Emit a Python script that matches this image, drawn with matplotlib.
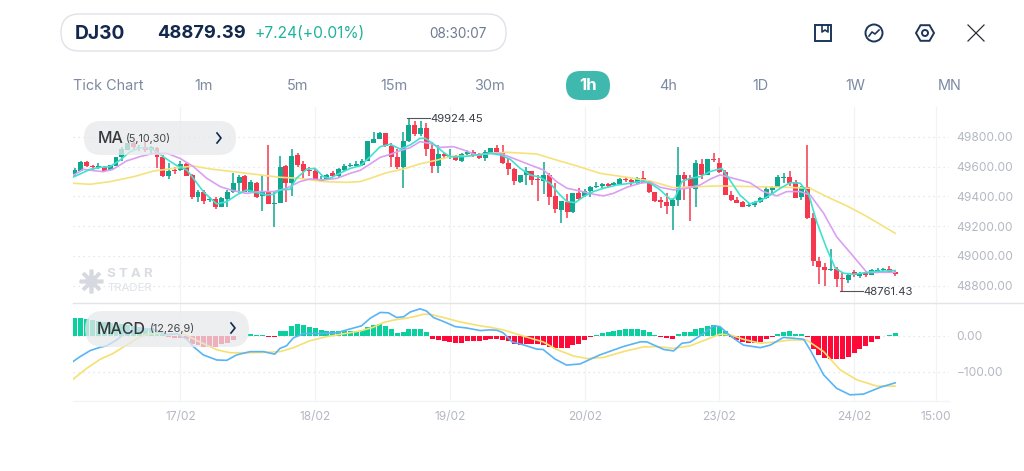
import numpy as np
import matplotlib
matplotlib.use("Agg")
import matplotlib.pyplot as plt
from matplotlib.patches import FancyBboxPatch, Circle, RegularPolygon, Rectangle

plt.rcParams['font.family'] = ['Inter', 'DejaVu Sans']

# hourly candles
opens = [49551, 49574, 49632, 49607, 49594, 49601, 49576, 49607, 49668, 49715,
         49757, 49726, 49733, 49713, 49728, 49668, 49538, 49580, 49580, 49619,
         49545, 49397, 49430, 49377, 49383, 49332, 49386, 49430, 49491, 49538,
         49430, 49489, 49404, 49435, 49352, 49359, 49605, 49493, 49677, 49619,
         49578, 49574, 49504, 49516, 49556, 49538, 49578, 49605, 49607, 49612,
         49639, 49760, 49789, 49825, 49742, 49668, 49601, 49773, 49878, 49818,
         49860, 49717, 49603, 49686, 49663, 49674, 49639, 49686, 49699, 49681,
         49657, 49690, 49724, 49701, 49627, 49587, 49500, 49542, 49569, 49516,
         49504, 49547, 49404, 49309, 49365, 49296, 49426, 49401, 49435, 49462,
         49468, 49482, 49475, 49484, 49516, 49513, 49493, 49527, 49489, 49430,
         49377, 49363, 49336, 49377, 49545, 49522, 49453, 49619, 49545, 49650,
         49623, 49567, 49412, 49377, 49363, 49338, 49341, 49361, 49390, 49444,
         49464, 49524, 49533, 49498, 49395, 49462, 49256, 48964, 48924, 48904,
         48913, 48852, 48839, 48890, 48868, 48886, 48873, 48899, 48906, 48915,
         48890]
highs = [49589, 49636, 49641, 49610, 49623, 49605, 49614, 49668, 49735, 49762,
         49769, 49746, 49764, 49739, 49735, 49679, 49623, 49601, 49641, 49627,
         49551, 49444, 49444, 49399, 49395, 49395, 49444, 49556, 49545, 49547,
         49511, 49500, 49545, 49746, 49433, 49672, 49612, 49717, 49690, 49641,
         49601, 49583, 49538, 49551, 49574, 49592, 49619, 49627, 49636, 49650,
         49775, 49831, 49836, 49829, 49762, 49717, 49831, 49924.45, 49910, 49910,
         49892, 49769, 49746, 49695, 49717, 49679, 49695, 49713, 49713, 49690,
         49713, 49728, 49746, 49744, 49657, 49594, 49547, 49601, 49574, 49545,
         49632, 49556, 49489, 49372, 49417, 49426, 49455, 49448, 49471, 49498,
         49493, 49493, 49498, 49522, 49533, 49518, 49533, 49574, 49511, 49433,
         49395, 49421, 49381, 49735, 49567, 49545, 49645, 49650, 49654, 49690,
         49657, 49578, 49439, 49399, 49370, 49354, 49372, 49399, 49462, 49471,
         49542, 49560, 49574, 49511, 49471, 49746, 49287, 48996, 48951, 49050,
         48929, 48888, 48879, 48906, 48893, 48897, 48915, 48917, 48922, 48935,
         48902]
lows = [49529, 49569, 49596, 49574, 49587, 49569, 49571, 49605, 49636, 49713,
        49717, 49708, 49701, 49686, 49589, 49533, 49520, 49551, 49574, 49538,
        49381, 49365, 49347, 49363, 49316, 49332, 49332, 49426, 49426, 49428,
        49421, 49388, 49305, 49350, 49197, 49354, 49365, 49404, 49601, 49516,
        49538, 49504, 49500, 49511, 49529, 49529, 49574, 49601, 49596, 49607,
        49636, 49757, 49784, 49735, 49601, 49587, 49455, 49769, 49807, 49807,
        49672, 49560, 49556, 49650, 49654, 49639, 49634, 49679, 49663, 49654,
        49641, 49686, 49695, 49619, 49547, 49480, 49489, 49480, 49477, 49368,
        49415, 49341, 49291, 49224, 49256, 49291, 49377, 49395, 49399, 49457,
        49457, 49462, 49471, 49480, 49500, 49471, 49477, 49489, 49426, 49363,
        49323, 49285, 49175, 49336, 49377, 49238, 49332, 49516, 49542, 49630,
        49560, 49408, 49372, 49354, 49327, 49332, 49332, 49359, 49386, 49410,
        49462, 49493, 49471, 49388, 49377, 49251, 48933, 48812, 48799, 48899,
        48790, 48761.43, 48821, 48861, 48852, 48861, 48870, 48893, 48897, 48884,
        48868]
closes = [49576, 49632, 49607, 49596, 49603, 49574, 49610, 49663, 49717, 49757,
          49730, 49735, 49713, 49733, 49668, 49538, 49574, 49574, 49619, 49540,
          49399, 49430, 49372, 49386, 49332, 49388, 49430, 49493, 49533, 49433,
          49498, 49399, 49435, 49350, 49356, 49601, 49493, 49672, 49614, 49574,
          49569, 49504, 49520, 49545, 49536, 49583, 49607, 49612, 49616, 49639,
          49771, 49789, 49825, 49742, 49668, 49598, 49773, 49878, 49818, 49860,
          49717, 49607, 49683, 49672, 49672, 49643, 49686, 49699, 49679, 49659,
          49697, 49724, 49699, 49627, 49587, 49502, 49542, 49571, 49509, 49509,
          49542, 49399, 49314, 49370, 49298, 49426, 49381, 49437, 49466, 49471,
          49482, 49471, 49489, 49518, 49509, 49495, 49527, 49493, 49428, 49370,
          49361, 49336, 49377, 49545, 49520, 49455, 49623, 49545, 49650, 49643,
          49567, 49412, 49377, 49359, 49332, 49345, 49363, 49392, 49451, 49466,
          49529, 49531, 49493, 49392, 49462, 49256, 48964, 48929, 48906, 48911,
          48848, 48843, 48870, 48870, 48884, 48873, 48908, 48906, 48915, 48886,
          48879.39]

# moving averages, sampled along the candle index
ma5_idx = [-0.4, 0.85, 2.6, 4.3, 6, 7.7, 9.4, 11.1, 12.8, 13.9, 15.7, 17.4, 19.1, 20.2, 21.9, 23.1, 24.2,
           25.9, 27.6, 29.3, 31, 32.7, 33.9, 35, 36.7, 37.8, 39.6, 41, 42.4, 43.5, 45.2, 47, 48.7, 50.4,
           52.1, 53.8, 55.5, 57.2, 58.9, 59.8, 61.2, 62.9, 64, 66.3, 68.6, 70.9, 72.6, 74.3, 76, 77.7,
           79.4, 81.1, 82.8, 84, 85.4, 86.8, 88.5, 90.2, 92.5, 94.8, 97, 98.2, 99.9, 101.6, 102.4, 103.6,
           105, 106.7, 108.4, 110.4, 111.8, 113.5, 115.2, 117, 118.7, 120.4, 122.1, 123.8, 125.2, 126.6,
           128.3, 129.8, 131.2, 132.9, 136.3, 140]
ma5 = [49529, 49551, 49583, 49596, 49601, 49645, 49701, 49728, 49724, 49701, 49650, 49607, 49578, 49522,
       49433, 49388, 49350, 49365, 49410, 49444, 49426, 49410, 49415, 49444, 49448, 49522, 49585, 49589,
       49533, 49522, 49556, 49589, 49607, 49668, 49735, 49751, 49719, 49746, 49791, 49791, 49753, 49697,
       49668, 49668, 49679, 49690, 49679, 49650, 49589, 49545, 49529, 49489, 49410, 49365, 49359, 49399,
       49433, 49455, 49477, 49489, 49505, 49489, 49444, 49381, 49388, 49500, 49522, 49533, 49567, 49589,
       49511, 49410, 49350, 49372, 49410, 49455, 49493, 49489, 49421, 49231, 49052, 48917, 48884, 48877,
       48895, 48902]
ma10_idx = [-0.4, 1.4, 3.1, 4.8, 6.5, 8.8, 11.1, 13.4, 15.7, 17.9, 20.2, 22.5, 24.8, 27, 29.3, 31.6, 33.9,
            36.1, 38.4, 40.1, 42.4, 44.7, 47, 48.7, 50.4, 52.1, 53.8, 55.5, 57.2, 58.9, 60.6, 62.3, 64.6,
            66.3, 68.6, 70.9, 72.6, 74.8, 77.7, 80, 82.2, 84, 86.2, 88.5, 90.2, 91.9, 94.2, 96.5, 98.2,
            99.9, 102.2, 104.4, 106.7, 108.4, 110.1, 112.4, 115.2, 117.5, 119.8, 121.5, 123.8, 125.5,
            127.8, 130, 132.9, 135.2, 137.5, 140]
ma10 = [49540, 49583, 49574, 49567, 49583, 49639, 49668, 49690, 49690, 49657, 49601, 49522, 49466, 49439,
        49421, 49433, 49433, 49455, 49500, 49518, 49511, 49522, 49556, 49576, 49619, 49663, 49683, 49708,
        49728, 49769, 49757, 49730, 49735, 49713, 49679, 49690, 49690, 49657, 49612, 49578, 49500, 49455,
        49437, 49415, 49404, 49421, 49462, 49489, 49497, 49462, 49444, 49455, 49477, 49516, 49545, 49522,
        49493, 49433, 49404, 49433, 49433, 49410, 49287, 49130, 48996, 48888, 48890, 48890]
ma30_idx = [-0.4, 2.6, 6, 10, 13.4, 16.8, 20.2, 23.1, 27, 31.6, 35, 38.4, 42.4, 46.4, 48.7, 50.4, 53.2,
            56.1, 58.9, 61.8, 64, 66.9, 70.9, 73.7, 78.8, 82.2, 85.7, 89.6, 94.2, 98.2, 102.2, 106.1,
            110.1, 115.8, 121.5, 125.5, 128.3, 131.8, 135.2, 140]
ma30 = [49489, 49482, 49500, 49533, 49571, 49589, 49605, 49585, 49567, 49545, 49529, 49522, 49500, 49495,
        49500, 49522, 49560, 49585, 49619, 49645, 49668, 49672, 49690, 49697, 49686, 49645, 49605, 49556,
        49529, 49504, 49459, 49466, 49471, 49466, 49462, 49455, 49399, 49336, 49265, 49153]

# MACD histogram, one bar per candle
macd_hist = [50, 50, 47, 44, 41, 38, 35, 35, 33, 30, 28, 25, 22, 20, 15, 8, -3, -6, -7, -10,
             -22, -27, -30, -31, -32, -23, -19, -11, -2, -2, 4, 2, 2, -3, -3, 12, 14, 28, 31, 29,
             25, 20, 15, 14, 12, 12, 14, 14, 14, 16, 24, 30, 31, 27, 17, 8, 10, 17, 18, 18,
             9, -8, -11, -15, -17, -20, -19, -16, -15, -15, -13, -10, -9, -12, -15, -24, -25, -24, -24, -24,
             -25, -30, -34, -35, -35, -25, -24, -13, -5, 3, 8, 11, 14, 16, 19, 18, 18, 15, 10, 3,
             -4, -7, -8, 5, 9, 9, 18, 21, 27, 29, 24, 14, -3, -12, -18, -20, -20, -18, -10, -3,
             4, 10, 12, 5, 5, -3, -37, -52, -62, -63, -65, -64, -58, -48, -36, -28, -18, -10, -2, 3,
             7]
dif_idx = [-0.4, 0.85, 2.6, 4.3, 5.4, 7.1, 8.8, 11.1, 13.4, 15.7, 17.4, 19.1, 20.2, 21.9, 24.2, 25.9, 27.6,
           29.9, 32.2, 34.1, 35, 36.1, 37.3, 39, 41.8, 44.7, 46.4, 48.9, 50.4, 52.1, 53.5, 54.9, 56.1,
           57.2, 58.9, 60, 61.2, 62.9, 64.9, 66.9, 69.2, 70.9, 72, 73.1, 74.6, 76.5, 78.8, 79.9, 81.9,
           83.9, 86.2, 89.6, 93.6, 96.5, 97.6, 100.5, 102.2, 103.6, 105, 107.3, 109, 110.1, 111.9, 114.1,
           117, 118.7, 120.9, 122.6, 124.4, 125.5, 127.8, 130, 132.3, 134.6, 137.5, 140]
dif = [-72, -58, -41, -32, -28, -12, 11, 20, 16, 2, 5, -10, -30, -53, -67, -68, -53, -44, -44, -51, -35,
       -28, -6, 6, 6, 8, 16, 27, 48, 64, 63, 50, 52, 65, 74, 68, 50, 39, 25, 21, 14, 16, 15, 8, -17, -25,
       -37, -38, -64, -81, -78, -53, -30, -17, -17, -38, -42, -21, -18, 6, 27, 25, -1, -26, -33, -26, -5,
       -7, -10, -39, -108, -145, -163, -161, -142, -130]
dea_idx = [-0.4, 2, 4.3, 6.5, 8.8, 11.1, 12.8, 15.7, 18.6, 21.3, 24.2, 26.5, 29.3, 32.7, 35, 37.3, 40.1,
           42.9, 45.8, 48.7, 50.9, 52.6, 54.4, 56.1, 57.8, 59.5, 60.6, 62.9, 65.7, 69.2, 70.9, 73.1, 76.5,
           79.9, 82.2, 85.1, 87.4, 90.2, 93.6, 97, 99.3, 102.2, 105, 107.9, 110.1, 111.9, 114.1, 117, 119.8,
           122.1, 124.9, 127.8, 130.6, 133.5, 136.9, 140]
dea = [-121, -90, -65, -49, -26, -3, 6, 6, 4, -17, -39, -47, -47, -46, -44, -33, -14, -3, 5, 13, 23, 36,
       43, 47, 52, 59, 59, 50, 38, 27, 23, 16, -1, -17, -38, -56, -63, -60, -44, -31, -30, -35, -28, -10,
       4, 2, -10, -21, -17, -12, -12, -44, -94, -122, -139, -139]

price_ticks = [49800, 49600, 49400, 49200, 49000, 48800]
macd_ticks = [0, -100]
date_idx = [18, 41, 64, 87, 110, 133, 147]
date_labels = ['17/02', '18/02', '19/02', '20/02', '23/02', '24/02', '15:00']
tab_labels = ['1m', '5m', '15m', '30m', '4h', '1D', '1W', 'MN']
tab_x = [204, 298, 394, 489, 668, 760, 855, 950]

UP = '#10a690'
DOWN = '#f5384e'
HIST_UP = '#0ccf9f'
HIST_DOWN = '#ff0a38'
GRID = '#dfe0e4'
VGRID = '#f2f3f5'
AXIS_TXT = '#b4b8c3'
NAVY = '#12284c'
TAB = '#7b89a1'
W, H = 1024, 471


def px_axes(fig, left, top, right, bottom):
    return fig.add_axes([left / W, 1 - bottom / H, (right - left) / W, (bottom - top) / H])


def style_axes(ax):
    for s in ax.spines.values():
        s.set_visible(False)
    ax.set_xlim(-0.34, 149.2)
    ax.set_xticks(date_idx)
    ax.yaxis.tick_right()
    ax.tick_params(length=0, colors=AXIS_TXT, labelsize=8.6, pad=5.5)
    ax.grid(axis='x', color=VGRID, lw=0.9)
    ax.grid(axis='y', color=GRID, lw=0.9, ls=(0, (1, 3)))
    ax.set_axisbelow(True)


def rounded(ax, x0, y0, x1, y1, r, **kw):
    ax.add_patch(FancyBboxPatch((x0 + r, y0 + r), x1 - x0 - 2 * r, y1 - y0 - 2 * r,
                                boxstyle=f'round,pad={r},rounding_size={r}', **kw))


fig = plt.figure(figsize=(W / 100, H / 100), dpi=100, facecolor='white')

# price panel
ax = px_axes(fig, 73, 107, 949, 303)
style_axes(ax)
idx = np.arange(len(closes))
o, h, l, c = map(np.array, (opens, highs, lows, closes))
cols = np.where(c >= o, UP, DOWN)
ax.vlines(idx, l, h, colors=cols, lw=1.1, zorder=3)
ax.bar(idx, np.abs(c - o), bottom=np.minimum(o, c), width=0.85, color=cols, zorder=4)
ax.plot(ma30_idx, ma30, color='#f6e27c', lw=1.2, zorder=5)
ax.plot(ma10_idx, ma10, color='#d9a0f2', lw=1.2, zorder=5)
ax.plot(ma5_idx, ma5, color='#3fe2d2', lw=1.2, zorder=5)
ax.set_ylim(48683.7, 50001.7)
ax.set_yticks(price_ticks, [f'{v:.2f}' for v in price_ticks])
ax.tick_params(labelbottom=False)

# session high and low markers
hi_i, lo_i = int(np.argmax(h)), int(np.argmin(l))
ax.plot([hi_i - 0.4, hi_i + 3.6], [h[hi_i], h[hi_i]], color='#555', lw=0.8, zorder=6)
ax.text(hi_i + 3.6, h[hi_i], f'{h[hi_i]:.2f}', color='#3c3f47', fontsize=8.2, va='center_baseline', zorder=6)
ax.plot([lo_i - 0.4, lo_i + 3.6], [l[lo_i], l[lo_i]], color='#555', lw=0.8, zorder=6)
ax.text(lo_i + 3.6, l[lo_i], f'{l[lo_i]:.2f}', color='#3c3f47', fontsize=8.2, va='center_baseline', zorder=6)

# MACD panel
ax2 = px_axes(fig, 73, 303, 949, 401)
style_axes(ax2)
hist = np.array(macd_hist)
ax2.bar(np.arange(len(hist)), hist, width=0.85, color=np.where(hist >= 0, HIST_UP, HIST_DOWN), zorder=3)
ax2.plot(dea_idx, dea, color='#f6e070', lw=1.2, zorder=4)
ax2.plot(dif_idx, dif, color='#58b4f6', lw=1.2, zorder=5)
ax2.set_ylim(-180, 90)
ax2.set_yticks(macd_ticks, ['0.00', '\u2212100.00'])
ax2.set_xticklabels(date_labels)
ax2.tick_params(axis='x', pad=7)

# header, tabs and overlays are laid out in screen pixels
ui = fig.add_axes([0, 0, 1, 1], zorder=10)
ui.set_xlim(0, W)
ui.set_ylim(H, 0)
ui.axis('off')
ui.patch.set_alpha(0)

ui.plot([73, 1024], [303, 303], color='#e3e4e8', lw=1)
ui.plot([73, 949], [401, 401], color='#f3f4f6', lw=1)

rounded(ui, 61, 14, 506, 51, 18.5, fc='white', ec='#dfe2e8', lw=1)
ui.text(75, 34, 'DJ30', color=NAVY, fontsize=13.8, fontweight='bold', va='center')
ui.text(157, 34, '48879.39', color=NAVY, fontsize=13.2, fontweight='bold', va='center')
ui.text(255, 34, '+7.24(+0.01%)', color='#1fb29c', fontsize=11.2, va='center')
ui.text(429, 34, '08:30:07', color='#6d7b91', fontsize=9.8, va='center')

ui.text(73, 85.5, 'Tick Chart', color=TAB, fontsize=10.4, va='center')
for x, t in zip(tab_x, tab_labels):
    ui.text(x, 85.5, t, color=TAB, fontsize=10.4, va='center', ha='center')
rounded(ui, 566, 71, 610, 100, 14.5, fc='#3fb8ad', ec='none')
ui.text(588, 86, '1h', color='white', fontsize=12, fontweight='bold', va='center', ha='center')

# toolbar icons
ui.add_patch(Rectangle((815, 25), 16, 16, fc='none', ec='#1c3559', lw=1.4))
ui.plot([822, 822, 825, 828, 828], [25, 32, 30, 32, 25], color='#1c3559', lw=1.2)
ui.add_patch(Circle((874, 33), 8.5, fc='none', ec='#1c3559', lw=1.4))
ui.plot([869, 872, 875, 879], [36, 32, 34, 30], color='#1c3559', lw=1.2)
ui.add_patch(RegularPolygon((925, 33), 6, radius=9, orientation=np.pi / 2, fc='none', ec='#1c3559', lw=1.4))
ui.add_patch(Circle((925, 33), 3, fc='none', ec='#1c3559', lw=1.4))
ui.plot([968, 984], [25, 41], color='#2a2f3a', lw=0.9)
ui.plot([968, 984], [41, 25], color='#2a2f3a', lw=0.9)

# indicator badges over the panels
rounded(ui, 84, 121, 236, 155, 17, fc='#e8e9eb', ec='none', alpha=0.75)
ui.text(98, 138.5, 'MA', color='#36383d', fontsize=11.5, fontweight='medium', va='center')
ui.text(126, 139, '(5,10,30)', color='#44474d', fontsize=7.8, va='center')
ui.plot([217, 221, 217], [133, 138, 143], color=NAVY, lw=1.2)
rounded(ui, 85, 311, 249, 347, 18, fc='#e8e9eb', ec='none', alpha=0.75)
ui.text(97, 329, 'MACD', color='#36383d', fontsize=11.5, fontweight='medium', va='center')
ui.text(150, 329, '(12,26,9)', color='#44474d', fontsize=7.8, va='center')
ui.plot([231, 235, 231], [323, 328, 333], color=NAVY, lw=1.2)

# watermark
ui.plot([91], [281], marker=(8, 2, 0), ms=17, mew=2.6, color='#d6d9e0')
ui.plot([91], [281], marker='o', ms=9, color='#d6d9e0', mec='none')
ui.text(107, 274, 'S T A R', color='#d9dce3', fontsize=9.6, fontweight='bold', va='center')
ui.text(107, 288, 'TRADER', color='#e0e2e8', fontsize=8.2, va='center')

fig.savefig('out.png', dpi=100)
